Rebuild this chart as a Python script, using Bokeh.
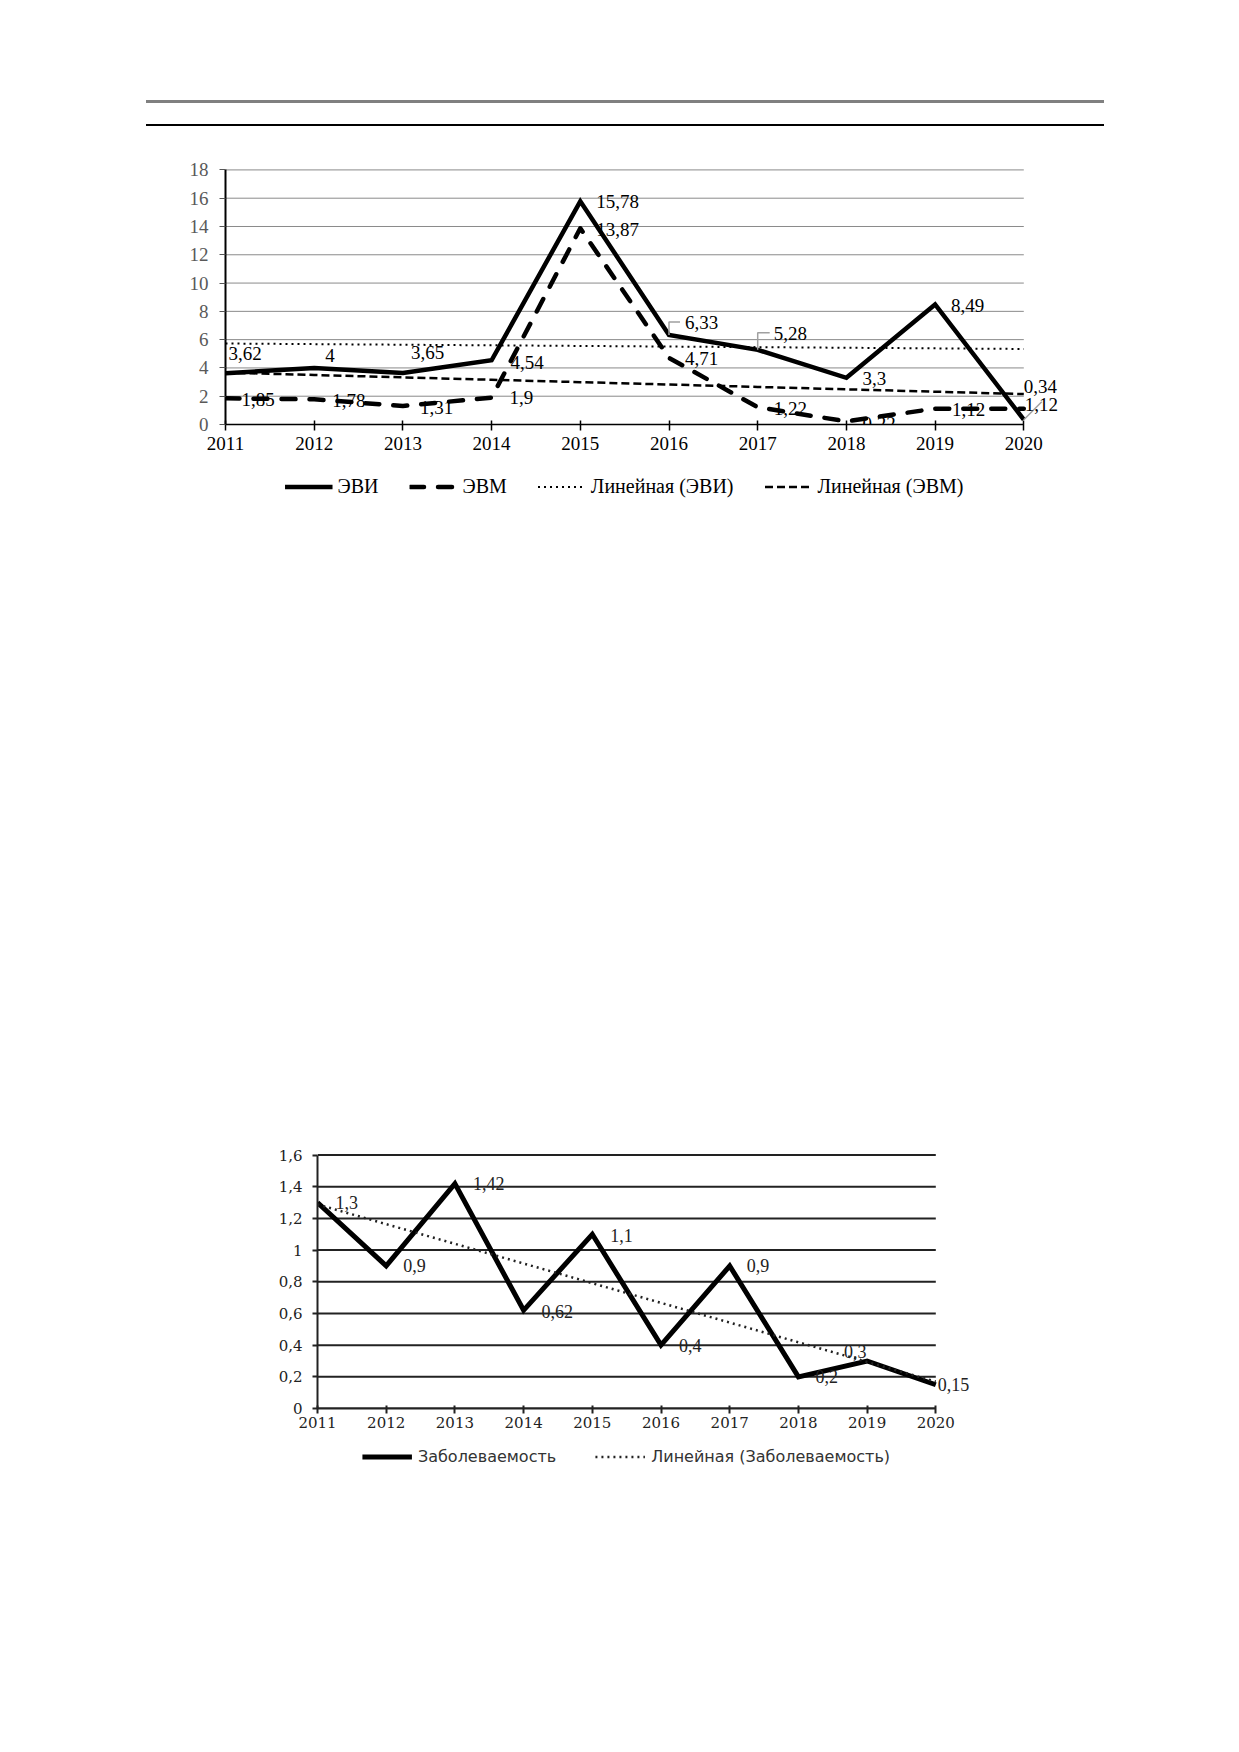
import numpy as np
from bokeh.plotting import figure
from bokeh.models import (ColumnDataSource, FixedTicker, Legend, LegendItem, Div, Spacer,
                          CustomJSTickFormatter, LabelSet)
from bokeh.layouts import column, row
from bokeh.embed import file_html
from bokeh.resources import INLINE

# ---------------- data ----------------
years = [2011, 2012, 2013, 2014, 2015, 2016, 2017, 2018, 2019, 2020]
evi = [3.62, 4, 3.65, 4.54, 15.78, 6.33, 5.28, 3.3, 8.49, 0.34]
evm = [1.85, 1.78, 1.31, 1.9, 13.87, 4.71, 1.22, 0.22, 1.12, 1.12]
morb = [1.3, 0.9, 1.42, 0.62, 1.1, 0.4, 0.9, 0.2, 0.3, 0.15]

top_yticks = [0, 2, 4, 6, 8, 10, 12, 14, 16, 18]
bot_yticks = [0, 0.2, 0.4, 0.6, 0.8, 1.0, 1.2, 1.4, 1.6]

series_names_top = ["ЭВИ", "ЭВМ", "Линейная (ЭВИ)", "Линейная (ЭВМ)"]
series_names_bot = ["Заболеваемость", "Линейная (Заболеваемость)"]

# label offsets in screen px (dx right, dy down) -- style only
evi_dx = [3, 11, 8, 19, 16, 16, 16, 16, 16, 0]
evi_dy = [-20, -12, -20, 2, 0, -12, -16, 1, 1, -33]
evm_dx = [16, 18, 17, 18, 16, 16, 16, 16, 17, 1]
evm_dy = [1, 1, 2, 0, 1, 1, 1, 2, 1, -4]
morb_dx = [18, 17, 18, 18, 18, 18, 17, 17, -23, 2]
morb_dy = [0, 0, 0, 1, 1, 0, 0, 0, -9, 0]

# leader lines (index into ЭВИ series, path in screen px relative to the point: right, up)
leaders = [(5, [(0, 0), (0, 13), (11, 13)]),
           (6, [(0, 0), (0, 17), (12, 17)]),
           (9, [(0, 0), (18, 18)])]


def fmt(v):
    return ("%g" % v).replace(".", ",")


def trend(xs, ys):
    k, b = np.polyfit(np.array(xs, float), np.array(ys, float), 1)
    return [k * x + b for x in xs]


SERIF = "Liberation Serif"
SERIF2 = "DejaVu Serif"


def bare_fig(fw, fh):
    f = figure(frame_width=fw, frame_height=fh, x_range=(0, 1), y_range=(0, 1),
               x_axis_location=None, y_axis_location=None,
               min_border_left=0, min_border_right=0, min_border_top=0, min_border_bottom=0,
               toolbar_location=None, output_backend="svg", margin=0)
    f.title.visible = False
    f.outline_line_color = None
    f.xgrid.grid_line_color = None
    f.ygrid.grid_line_color = None
    return f


# ---------------- header rules ----------------
rules = Div(
    text=('<div style="height:100px"></div>'
          '<div style="margin-left:146px;width:958px;height:3px;background:#808080"></div>'
          '<div style="height:21px"></div>'
          '<div style="margin-left:146px;width:958px;height:2px;background:#000000"></div>'),
    width=1110, height=130, margin=0)

# ---------------- chart 1 ----------------
P1_FW, P1_FH = 887, 256
P1_X = (years[0], years[-1] + 1)
P1_Y = (0, 18.1)
p1 = figure(frame_width=P1_FW, frame_height=P1_FH, x_range=P1_X, y_range=P1_Y,
            min_border_left=225, min_border_right=0, min_border_top=38, min_border_bottom=40,
            toolbar_location=None, output_backend="svg", margin=0)
p1.title.visible = False
p1.outline_line_color = None
p1.background_fill_color = "white"
p1.xgrid.grid_line_color = None
p1.ygrid.grid_line_color = None

p1.segment(x0=[years[0]] * len(top_yticks), x1=[years[-1]] * len(top_yticks),
           y0=top_yticks, y1=top_yticks, line_color="#8a8a8a", line_width=1)

p1.xaxis.ticker = FixedTicker(ticks=years)
p1.xaxis.bounds = (years[0], years[-1])
p1.xaxis.formatter = CustomJSTickFormatter(code="return tick.toFixed(0)")
p1.xaxis.axis_line_color = "black"
p1.xaxis.axis_line_width = 1.5
p1.xaxis.major_tick_in = 4
p1.xaxis.major_tick_out = 6
p1.xaxis.major_tick_line_width = 1.5
p1.xaxis.minor_tick_line_color = None
p1.xaxis.major_label_standoff = 6
p1.xaxis.major_label_text_font = SERIF
p1.xaxis.major_label_text_font_size = "19px"
p1.xaxis.major_label_text_color = "black"

p1.yaxis.ticker = FixedTicker(ticks=top_yticks)
p1.yaxis.bounds = (0, 18)
p1.yaxis.formatter = CustomJSTickFormatter(code="return tick.toFixed(0)")
p1.yaxis.axis_line_color = "black"
p1.yaxis.axis_line_width = 2
p1.yaxis.major_tick_in = 0
p1.yaxis.major_tick_out = 6
p1.yaxis.major_tick_line_color = "#555555"
p1.yaxis.minor_tick_line_color = None
p1.yaxis.major_label_standoff = 11
p1.yaxis.major_label_text_font = SERIF
p1.yaxis.major_label_text_font_size = "19px"
p1.yaxis.major_label_text_color = "#595959"

src_top = ColumnDataSource(dict(
    x=years, evi=evi, evm=evm, evi_tr=trend(years, evi), evm_tr=trend(years, evm),
    evi_lab=[fmt(v) for v in evi], evm_lab=[fmt(v) for v in evm],
    evi_dx=evi_dx, evi_dy=[-d for d in evi_dy], evm_dx=evm_dx, evm_dy=[-d for d in evm_dy]))

EVI_STYLE = dict(line_color="black", line_width=4.5, line_join="miter")
EVM_STYLE = dict(line_color="black", line_width=4.5, line_dash="14 14", line_cap="round", line_join="round")
EVI_TR_STYLE = dict(line_color="black", line_width=2, line_dash="2 4")
EVM_TR_STYLE = dict(line_color="black", line_width=2.5, line_dash="8 4")

p1.line("x", "evi", source=src_top, **EVI_STYLE)
p1.line("x", "evm", source=src_top, **EVM_STYLE)
p1.line("x", "evi_tr", source=src_top, **EVI_TR_STYLE)
p1.line("x", "evm_tr", source=src_top, **EVM_TR_STYLE)

# leader lines of moved data labels (screen-px offsets converted with the plot's own scale)
ux = (P1_X[1] - P1_X[0]) / P1_FW
uy = (P1_Y[1] - P1_Y[0]) / P1_FH
lx, ly = [], []
for i, path in leaders:
    lx.append([years[i] + a * ux for a, b in path])
    ly.append([evi[i] + b * uy for a, b in path])
p1.multi_line(xs=lx, ys=ly, line_color="#a0a0a0", line_width=1.5)

for col, dx, dy, ycol in [("evi_lab", "evi_dx", "evi_dy", "evi"), ("evm_lab", "evm_dx", "evm_dy", "evm")]:
    p1.add_layout(LabelSet(x="x", y=ycol, text=col, x_offset=dx, y_offset=dy, source=src_top,
                           text_font=SERIF, text_font_size="19px", text_color="black",
                           text_align="left", text_baseline="middle"))

# legend strip for chart 1 (sample renderers sit outside the strip's visible range)
L1 = bare_fig(798, 44)
off = dict(x=[5, 6], y=[5, 5])
l_evi = L1.line(**off, **EVI_STYLE)
l_evm = L1.line(**off, **EVM_STYLE)
l_evi_tr = L1.line(**off, **EVI_TR_STYLE)
l_evm_tr = L1.line(**off, **EVM_TR_STYLE)
L1.add_layout(Legend(items=[LegendItem(label=series_names_top[0], renderers=[l_evi]),
                            LegendItem(label=series_names_top[1], renderers=[l_evm]),
                            LegendItem(label=series_names_top[2], renderers=[l_evi_tr]),
                            LegendItem(label=series_names_top[3], renderers=[l_evm_tr])],
                     orientation="horizontal", location="center", glyph_width=48, glyph_height=18,
                     label_standoff=5, spacing=31, padding=0, margin=0, border_line_color=None,
                     background_fill_alpha=0, label_text_font=SERIF, label_text_font_size="20px",
                     label_text_color="black", label_height=18))

# ---------------- chart 2 ----------------
p2 = figure(frame_width=687, frame_height=255, x_range=(years[0], years[-1] + 1), y_range=(0, 1.61),
            min_border_left=225, min_border_right=0, min_border_top=23, min_border_bottom=30,
            toolbar_location=None, output_backend="svg", margin=0)
p2.title.visible = False
p2.outline_line_color = None
p2.background_fill_color = "white"
p2.xgrid.grid_line_color = None
p2.ygrid.grid_line_color = None

p2.segment(x0=[years[0]] * len(bot_yticks), x1=[years[-1]] * len(bot_yticks),
           y0=bot_yticks, y1=bot_yticks, line_color="#222222", line_width=2)

p2.xaxis.ticker = FixedTicker(ticks=years)
p2.xaxis.bounds = (years[0], years[-1])
p2.xaxis.formatter = CustomJSTickFormatter(code="return tick.toFixed(0)")
p2.xaxis.axis_line_color = "#222222"
p2.xaxis.axis_line_width = 2
p2.xaxis.major_tick_in = 3
p2.xaxis.major_tick_out = 5
p2.xaxis.major_tick_line_width = 2
p2.xaxis.major_tick_line_color = "#222222"
p2.xaxis.minor_tick_line_color = None
p2.xaxis.major_label_standoff = 3
p2.xaxis.major_label_text_font = SERIF2
p2.xaxis.major_label_text_font_size = "15px"
p2.xaxis.major_label_text_color = "#222222"

p2.yaxis.ticker = FixedTicker(ticks=bot_yticks)
p2.yaxis.bounds = (0, 1.6)
p2.yaxis.formatter = CustomJSTickFormatter(
    code="var s = tick.toFixed(1); if (s.endsWith('.0')) { s = s.slice(0, -2) }; return s.replace('.', ',')")
p2.yaxis.axis_line_color = "#222222"
p2.yaxis.axis_line_width = 2
p2.yaxis.major_tick_in = 0
p2.yaxis.major_tick_out = 5
p2.yaxis.major_tick_line_width = 2
p2.yaxis.major_tick_line_color = "#222222"
p2.yaxis.minor_tick_line_color = None
p2.yaxis.major_label_standoff = 10
p2.yaxis.major_label_text_font = SERIF2
p2.yaxis.major_label_text_font_size = "15px"
p2.yaxis.major_label_text_color = "#222222"

src_bot = ColumnDataSource(dict(
    x=years, m=morb, m_tr=trend(years, morb), lab=[fmt(v) for v in morb],
    dx=morb_dx, dy=[-d for d in morb_dy]))

M_STYLE = dict(line_color="black", line_width=5, line_join="miter")
M_TR_STYLE = dict(line_color="#222222", line_width=2.5, line_dash="2 4")

p2.line("x", "m", source=src_bot, **M_STYLE)
p2.line("x", "m_tr", source=src_bot, **M_TR_STYLE)

p2.add_layout(LabelSet(x="x", y="m", text="lab", x_offset="dx", y_offset="dy", source=src_bot,
                       text_font=SERIF2, text_font_size="18px", text_color="#222222",
                       text_align="left", text_baseline="middle"))

L2 = bare_fig(618, 36)
l_m = L2.line(**off, **M_STYLE)
l_m_tr = L2.line(**off, **M_TR_STYLE)
L2.add_layout(Legend(items=[LegendItem(label=series_names_bot[0], renderers=[l_m]),
                            LegendItem(label=series_names_bot[1], renderers=[l_m_tr])],
                     orientation="horizontal", location="center", glyph_width=50, glyph_height=16,
                     label_standoff=6, spacing=39, padding=0, margin=0, border_line_color=None,
                     background_fill_alpha=0, label_text_font="DejaVu Sans", label_text_font_size="16px",
                     label_text_color="#333333", label_height=16))

layout = column(
    rules,
    row(p1, spacing=0),
    row(Spacer(width=225, height=10, margin=0), L1, spacing=0),
    Spacer(width=10, height=622, margin=0),
    row(Spacer(width=92, height=10, margin=0), p2, spacing=0),
    row(Spacer(width=317, height=10, margin=0), L2, spacing=0),
    spacing=0)

open("out.html", "w").write(file_html(layout, INLINE))
